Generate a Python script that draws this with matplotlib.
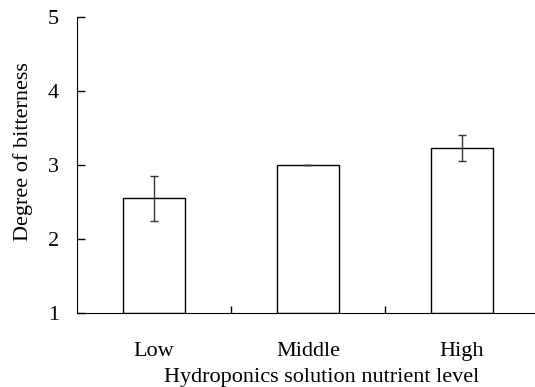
import numpy as np
import matplotlib.pyplot as plt

# Bitterness scores by nutrient level
levels = ['Low', 'Middle', 'High']
bitterness = [2.55, 3.0, 3.23]
errors = [0.30, 0.005, 0.17]

plt.rcParams['font.family'] = ['Liberation Serif', 'DejaVu Serif']

fig = plt.figure(figsize=(5.35, 3.87), dpi=100)
ax = fig.add_axes([0.1439, 0.1912, 0.8636, 0.7649])

x = np.arange(len(levels))
ax.bar(x, np.array(bitterness) - 1, bottom=1, width=0.4, color='white',
       edgecolor='black', linewidth=1.0)
ax.errorbar(x, bitterness, yerr=errors, fmt='none', ecolor='#333333',
            elinewidth=1.0, capsize=3, capthick=1.0)

ax.set_xlim(-0.5, 2.5)
ax.set_ylim(1, 5)
ax.set_yticks([1, 2, 3, 4, 5])
ax.set_xticks(x)
ax.set_xticklabels(levels)
ax.set_xticks([0.5, 1.5], minor=True)

ax.spines['top'].set_visible(False)
ax.spines['right'].set_visible(False)
ax.tick_params(axis='y', direction='in', length=6, width=1, labelsize=16, pad=13)
ax.tick_params(axis='x', which='major', length=0, labelsize=16, pad=21)
ax.tick_params(axis='x', which='minor', direction='in', length=5, width=1)

ax.set_ylabel('Degree of bitterness', fontsize=16)
ax.set_xlabel('Hydroponics solution nutrient level', fontsize=16)
ax.yaxis.set_label_coords(-0.095, 0.544)
ax.xaxis.set_label_coords(0.529, -0.186)

fig.savefig('out.png', dpi=100)
